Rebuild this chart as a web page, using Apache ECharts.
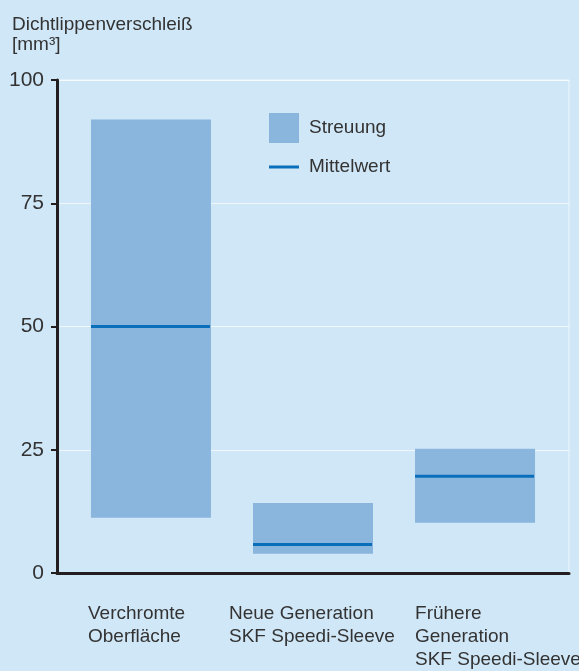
<!DOCTYPE html>
<html>
<head>
<meta charset="utf-8">
<script src="https://cdn.jsdelivr.net/npm/echarts@6/dist/echarts.min.js"></script>
<style>
html,body{margin:0;padding:0;background:#d0e7f7;}
#chart{width:579px;height:671px;}
</style>
</head>
<body>
<div id="chart"></div>
<script>
const categories = ['Verchromte\nOberfläche', 'Neue Generation\nSKF Speedi-Sleeve', 'Frühere\nGeneration\nSKF Speedi-Sleeve'];
const rangeLow = [11.2, 3.9, 10.2];
const rangeHigh = [92, 14.2, 25.2];
const meanValues = [50, 5.8, 19.6];
const yTickInterval = 25;
const yMin = 0;
const yMax = 100;

// style / layout constants
const BAR_WIDTH = 120;
const LABEL_DX = [-63, -84, -60];
const FONT = 'Liberation Sans';
const TEXT_COLOR = '#333333';

const chart = echarts.init(document.getElementById('chart'), null, {renderer: 'canvas'});

chart.setOption({
  backgroundColor: '#d0e7f7',
  animation: false,
  textStyle: {fontFamily: FONT},
  title: {
    text: 'Dichtlippenverschleiß\n[mm³]',
    left: 12, top: 15, padding: 0,
    textStyle: {fontFamily: FONT, fontSize: 19, fontWeight: 'normal', color: TEXT_COLOR, lineHeight: 20}
  },
  legend: [
    {
      data: [{name: 'Streuung', icon: 'rect'}],
      left: 269, top: 113, padding: 0,
      itemWidth: 30, itemHeight: 30,
      textStyle: {fontFamily: FONT, fontSize: 19, color: TEXT_COLOR, padding: [7, 0, 0, 5]}
    },
    {
      data: [{name: 'Mittelwert', icon: 'rect'}],
      left: 269, top: 157, padding: 0,
      itemWidth: 30, itemHeight: 3,
      textStyle: {fontFamily: FONT, fontSize: 19, color: TEXT_COLOR, lineHeight: 20, padding: [0, 0, 0, 5]}
    }
  ],
  grid: {
    left: 57, right: 10, top: 80, bottom: 98,
    show: true, borderColor: 'rgba(255,255,255,0.65)', borderWidth: 1
  },
  xAxis: {
    type: 'value', min: -0.58, max: 2.58,
    axisLine: {show: true, onZero: false, lineStyle: {color: '#231f20', width: 3}},
    axisTick: {show: false}, axisLabel: {show: false}, splitLine: {show: false}
  },
  yAxis: {
    type: 'value', min: yMin, max: yMax, interval: yTickInterval,
    axisLine: {show: true, onZero: false, lineStyle: {color: '#231f20', width: 3}},
    axisTick: {show: true, length: 6, lineStyle: {color: '#231f20', width: 2}},
    axisLabel: {fontFamily: FONT, fontSize: 21, color: TEXT_COLOR, margin: 13, padding: [6, 0, 0, 0]},
    splitLine: {show: true, lineStyle: {color: 'rgba(255,255,255,0.65)', width: 1}}
  },
  series: [
    {
      name: 'Streuung', type: 'custom',
      itemStyle: {color: '#8ab6de'},
      data: categories.map((c, i) => [i, rangeLow[i], rangeHigh[i]]),
      renderItem: function (params, api) {
        const x = api.value(0);
        const top = api.coord([x, api.value(2)]);
        const bot = api.coord([x, api.value(1)]);
        return {
          type: 'rect',
          shape: {x: top[0] - BAR_WIDTH / 2, y: top[1], width: BAR_WIDTH, height: bot[1] - top[1]},
          style: {fill: '#8ab6de'}
        };
      }
    },
    {
      name: 'Mittelwert', type: 'custom',
      itemStyle: {color: '#0a6fbb'},
      data: categories.map((c, i) => [i, meanValues[i]]),
      renderItem: function (params, api) {
        const p = api.coord([api.value(0), api.value(1)]);
        return {
          type: 'line',
          shape: {x1: p[0] - BAR_WIDTH / 2, y1: p[1], x2: p[0] + BAR_WIDTH / 2 - 1, y2: p[1]},
          style: {stroke: '#0a6fbb', lineWidth: 3}
        };
      }
    },
    {
      type: 'custom', silent: true, clip: false,
      data: categories.map((c, i) => [i, 0]),
      renderItem: function (params, api) {
        const i = params.dataIndex;
        const p = api.coord([api.value(0), api.value(1)]);
        return {
          type: 'text',
          x: p[0] + LABEL_DX[i], y: p[1] + 29,
          style: {
            text: categories[i], fill: TEXT_COLOR,
            font: '19px "' + FONT + '"', lineHeight: 23,
            align: 'left', verticalAlign: 'top'
          }
        };
      }
    }
  ]
});
</script>
</body>
</html>
